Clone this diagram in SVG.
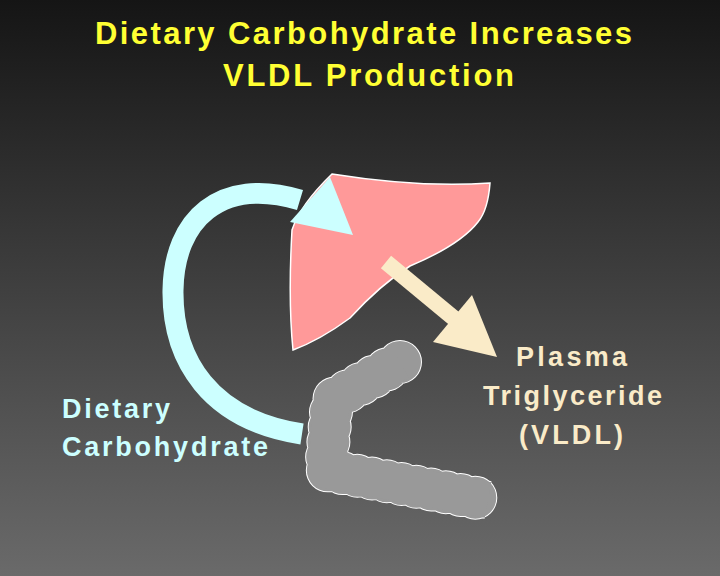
<svg xmlns="http://www.w3.org/2000/svg" width="720" height="576" viewBox="0 0 720 576">
<defs>
<linearGradient id="bg" x1="0" y1="0" x2="0" y2="1"><stop offset="0" stop-color="#151515"/><stop offset="1" stop-color="#6a6a6a"/></linearGradient>
<style>
text{font-family:"Liberation Sans",Arial,sans-serif;font-size:27px;font-weight:bold}
.t{fill:#ffff33;font-size:31px}
.c{fill:#ccffff}
.p{fill:#faebc8}
.g{fill:none;stroke-linejoin:round}
</style>
</defs>
<rect width="720" height="576" fill="url(#bg)"/>
<text class="t" x="95" y="44" textLength="537">Dietary Carbohydrate Increases</text>
<text class="t" x="223" y="86" textLength="291">VLDL Production</text>
<g id="intestine">
<path class="g" d="M400,362 L332,400 L326,470 L488,500" stroke="#fff" stroke-width="44" stroke-dasharray="0 15" stroke-linecap="round"/>
<path class="g" d="M400,362 L332,400 L326,470 L488,500" stroke="#fff" stroke-width="38"/>
<path class="g" d="M400,362 L332,400 L326,470 L488,500" stroke="#999" stroke-width="42" stroke-dasharray="0 15" stroke-linecap="round"/>
<path class="g" d="M400,362 L332,400 L326,470 L488,500" stroke="#999" stroke-width="36"/>
</g>
<g id="liver">
<path d="M332,174 Q420,188 490,183 Q488,210 478,222 Q460,245 410,266 Q380,285 350,318 Q320,340 293,350 Q288,300 292,230 Q300,205 332,174 Z" fill="#ff9999" stroke="#fff" stroke-width="1.5"/>
</g>
<g id="connectors">
<path d="M302,434 C210,420 172,360 173,290 C174,220 220,176 300,200" fill="none" stroke="#ccffff" stroke-width="21"/>
<polygon points="330,177 353,235 290,222" fill="#ccffff"/>
<line x1="386" y1="262" x2="456" y2="320" stroke="#faebc8" stroke-width="16"/>
<polygon points="472,295 497,357 433,342" fill="#faebc8"/>
</g>
<g id="label-carb"><text class="c" x="62" y="418" textLength="108">Dietary</text><text class="c" x="62" y="456" textLength="206">Carbohydrate</text></g>
<g id="label-tg"><text class="p" x="516" y="366" textLength="111">Plasma</text><text class="p" x="483" y="405" textLength="179">Triglyceride</text><text class="p" x="519" y="444" textLength="104">(VLDL)</text></g>
</svg>
